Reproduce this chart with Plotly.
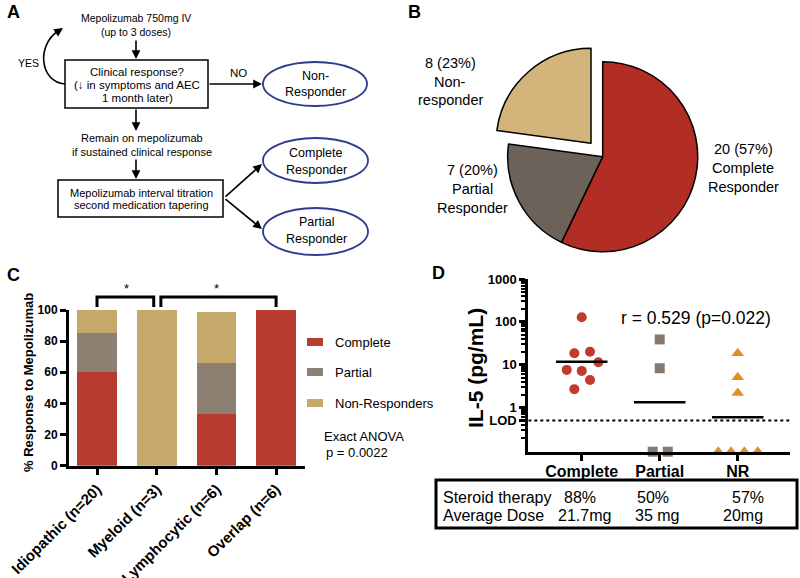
import math
import plotly.graph_objects as go

W, H = 800, 578
FONT = "Liberation Sans, Arial, Helvetica, sans-serif"


def px(x):
    return x / W


def py(y):
    return 1 - y / H


# ---------------- Data ----------------
# Panel B (pie)
pie_counts = [20, 7, 8]
pie_pct = ["57%", "20%", "23%"]
pie_names = [["Complete", "Responder"], ["Partial", "Responder"], ["Non-", "responder"]]

# Panel C (stacked bars)
subtypes = ["Idiopathic (n=20)", "Myeloid (n=3)", "Lymphocytic (n=6)", "Overlap (n=6)"]
pct_complete = [60, 0, 33, 100]
pct_partial = [25, 0, 33, 0]
pct_nonresp = [15, 100, 33, 0]
c_yticks = [0, 20, 40, 60, 80, 100]
resp_names = ["Complete", "Partial", "Non-Responders"]

# Panel D (IL-5)
groups = ["Complete", "Partial", "NR"]
BELOW_LOD = 0.094  # plotted at axis floor
il5_complete = [128, 18.5, 20.2, 11.4, 7.6, 7.2, 4.4, 2.7]
il5_partial = [39, 8.3, BELOW_LOD, BELOW_LOD]
il5_nr = [18.5, 5.1, 2.2, BELOW_LOD, BELOW_LOD, BELOW_LOD, BELOW_LOD]
jit_complete = [0, -0.095, 0.106, 0.213, -0.192, 0, 0.106, -0.095]
jit_partial = [0, 0, -0.09, 0.103]
jit_nr = [0, 0, 0, -0.249, -0.086, 0.085, 0.256]
il5_median = [11.8, 1.34, 0.6]
LOD = 0.5
d_ytickvals = [0.5, 1, 10, 100, 1000]
d_yticktext = ["LOD", "1", "10", "100", "1000"]
steroid_pct = ["88%", "50%", "57%"]
avg_dose = ["21.7mg", "35 mg", "20mg"]
r_text = "r = 0.529 (p=0.022)"

# ---------------- Colours ----------------
C_RED, C_GREY, C_BEIGE = "#b83b30", "#8d7f72", "#c5a96b"
B_RED, B_GREY, B_BEIGE = "#b22e24", "#6d6259", "#d3b57c"
D_RED, D_GREY, D_ORANGE = "#c23a2c", "#857a71", "#e08f2b"
ELL = "#2f3b8f"

fig = go.Figure()
shapes = []
ann = []


def text(x, y, s, size=11, bold=False, xanchor="center", color="black", angle=0):
    ann.append(dict(x=px(x), y=py(y), xref="paper", yref="paper", text=s, showarrow=False,
                    xanchor=xanchor, yanchor="middle", textangle=angle,
                    font=dict(family=FONT, size=size, color=color,
                              weight="bold" if bold else "normal")))


def arrow(x0, y0, x1, y1, w=1.6):
    ann.append(dict(x=px(x1), y=py(y1), xref="paper", yref="paper", text="",
                    showarrow=True, ax=x0 - x1, ay=y0 - y1, axref="pixel", ayref="pixel",
                    arrowhead=2, arrowsize=1.1, arrowwidth=w, arrowcolor="black", standoff=0))


def rect(x0, y0, x1, y1, w=1.5, color="black", fill=None):
    shapes.append(dict(type="rect", xref="paper", yref="paper", x0=px(x0), x1=px(x1),
                       y0=py(y1), y1=py(y0), line=dict(color=color, width=w),
                       fillcolor=fill if fill else "rgba(0,0,0,0)"))


def ellipse(x0, y0, x1, y1):
    shapes.append(dict(type="circle", xref="paper", yref="paper", x0=px(x0), x1=px(x1),
                       y0=py(y1), y1=py(y0), line=dict(color=ELL, width=1.8)))


# ---------------- Panel labels ----------------
for lab, (lx, ly) in zip("ABCD", [(5, 12), (406, 12), (5, 275), (430, 273)]):
    text(lx, ly, lab, size=18, bold=True, xanchor="left")

# ---------------- Panel A: flowchart ----------------
text(136, 18, "Mepolizumab 750mg IV", size=10.5)
text(136, 32, "(up to 3 doses)", size=10.5)
arrow(136, 39, 136, 59)
rect(65, 60, 208, 108)
text(137, 72, "Clinical response?", size=11.5)
text(137, 85, "(\u2193 in symptoms and AEC", size=11.5)
text(137, 98, "1 month later)", size=11.5)
text(28, 63, "YES", size=10.5)
shapes.append(dict(type="path", xref="paper", yref="paper",
                   path=f"M {px(65)},{py(84)} C {px(40)},{py(82)} {px(36)},{py(46)} {px(58)},{py(31)}",
                   line=dict(color="black", width=1.6)))
arrow(57, 32, 63, 28)
text(238, 73, "NO", size=11.5)
arrow(208, 84, 262, 84)
ellipse(263, 62, 367, 106)
text(315, 76, "Non-", size=12.5)
text(315, 92, "Responder", size=12.5)
arrow(136, 108, 136, 131)
text(142, 138, "Remain on mepolizumab", size=11)
text(142, 152, "if sustained clinical response", size=11)
arrow(136, 158, 136, 179)
rect(58, 180, 223, 217)
text(141, 193, "Mepolizumab interval titration", size=11)
text(141, 205, "second medication tapering", size=11)
arrow(224, 198, 262, 164)
arrow(224, 198, 262, 229)
ellipse(263, 138, 368, 183)
text(316, 153, "Complete", size=12.5)
text(316, 170, "Responder", size=12.5)
ellipse(263, 208, 368, 255)
text(316, 222, "Partial", size=12.5)
text(316, 239, "Responder", size=12.5)

# ---------------- Panel B: pie ----------------
fig.add_trace(go.Pie(values=pie_counts, sort=False, direction="clockwise", rotation=0,
                     marker=dict(colors=[B_RED, B_GREY, B_BEIGE], line=dict(color="black", width=1.5)),
                     pull=[0, 0, 0.187], textinfo="none", hoverinfo="skip", showlegend=False,
                     domain=dict(x=[px(489.9), px(715.5)], y=[py(269.5), py(43.9)])))
pie_lab_pos = [(743, 148.5, 19), (472, 169.5, 19), (450, 63, 18.5)]
for (lx, ly, dy), n, p, nm in zip(pie_lab_pos, pie_counts, pie_pct, pie_names):
    text(lx, ly, f"{n} ({p})", size=14.5)
    text(lx, ly + dy, nm[0], size=14.5)
    text(lx, ly + 2 * dy, nm[1], size=14.5)

# ---------------- Panel C: stacked bars ----------------
idx = list(range(len(subtypes)))
for vals, col in zip([pct_complete, pct_partial, pct_nonresp], [C_RED, C_GREY, C_BEIGE]):
    fig.add_trace(go.Bar(x=idx, y=vals, marker=dict(color=col, line=dict(width=0)),
                         width=0.665, showlegend=False, xaxis="x", yaxis="y", hoverinfo="skip"))

# significance brackets
for a, b, sx in [(0, 0.95, 0.5), (1.07, 3, 2.0)]:
    shapes.append(dict(type="path", xref="x", yref="paper",
                       path=f"M {a},{py(307)} L {a},{py(297)} L {b},{py(297)} L {b},{py(307)}",
                       line=dict(color="black", width=3)))
    ann.append(dict(x=sx, y=py(288), xref="x", yref="paper", text="*", showarrow=False,
                    font=dict(family=FONT, size=13, color="black"), xanchor="center", yanchor="middle"))

# legend
for name, col, yc in zip(resp_names, [C_RED, C_GREY, C_BEIGE], [342, 372, 403]):
    rect(307, yc - 4, 323, yc + 4, w=0, fill=col)
    text(333, yc, name, size=13, xanchor="left")
text(322, 436, "Exact ANOVA", size=13, xanchor="left")
text(324, 452, "p = 0.0022", size=13, xanchor="left")
text(28, 383, "% Response to Mepolizumab", size=13, bold=True, angle=-90)

# ---------------- Panel D: IL-5 ----------------
for i, (vals, jit, col, sym, sz) in enumerate([
        (il5_complete, jit_complete, D_RED, "circle", 10),
        (il5_partial, jit_partial, D_GREY, "square", 10),
        (il5_nr, jit_nr, D_ORANGE, "triangle-up", 11)]):
    fig.add_trace(go.Scatter(x=[i + j for j in jit], y=vals, mode="markers",
                             marker=dict(color=col, symbol=sym, size=sz, line=dict(width=0)),
                             cliponaxis=False, showlegend=False, xaxis="x2", yaxis="y2",
                             hoverinfo="skip"))

mx, my = [], []
for i, m in enumerate(il5_median):
    mx += [i - 0.33, i + 0.33, None]
    my += [m, m, None]
fig.add_trace(go.Scatter(x=mx, y=my, mode="lines", line=dict(color="black", width=2.5),
                         showlegend=False, xaxis="x2", yaxis="y2", hoverinfo="skip"))
d_xrange = [-0.685, 2.67]
fig.add_trace(go.Scatter(x=d_xrange, y=[LOD, LOD], mode="lines",
                         line=dict(color="black", width=2, dash="dot"),
                         showlegend=False, xaxis="x2", yaxis="y2", hoverinfo="skip"))

text(475, 368, "IL-5 (pg/mL)", size=21, bold=True, angle=-90)
text(696, 318, r_text, size=17.5)

# table
rect(436, 480, 797, 528, w=3)
text(441, 497, "Steroid therapy", size=16, xanchor="left")
text(441, 515, "Average Dose", size=16, xanchor="left")
for s, xc in zip(steroid_pct, [580, 653, 748]):
    text(xc, 497, s, size=16)
for s, xc in zip(avg_dose, [584, 657, 743]):
    text(xc, 515, s, size=16)

minor_vals = []
for dec in [0.1, 1, 10, 100]:
    for k in range(2, 10):
        v = round(k * dec, 6)
        if v != LOD:
            minor_vals.append(v)

axis_common = dict(showgrid=False, zeroline=False, showline=True, linecolor="black",
                   linewidth=3, ticks="outside", tickcolor="black", tickwidth=3, ticklen=6,
                   automargin=False)

fig.update_layout(
    width=W, height=H, margin=dict(l=0, r=0, t=0, b=0, autoexpand=False),
    paper_bgcolor="white", plot_bgcolor="white", barmode="stack",
    font=dict(family=FONT, color="black"),
    xaxis=dict(domain=[px(69), px(305)], range=[-0.469, 3.484], tickmode="array",
               tickvals=idx, ticktext=subtypes, tickangle=-45, anchor="y",
               tickfont=dict(family=FONT, size=15, weight="bold"), **axis_common),
    yaxis=dict(domain=[py(465.7), py(310)], range=[0, 100], tickvals=c_yticks, anchor="x",
               tickfont=dict(family=FONT, size=12, weight="bold"), **axis_common),
    xaxis2=dict(domain=[px(528.3), px(790)], range=d_xrange, tickmode="array",
                tickvals=[0, 1, 2], ticktext=groups, anchor="y2", ticklabelstandoff=-3,
                tickfont=dict(family=FONT, size=16, weight="bold"), **axis_common),
    yaxis2=dict(domain=[py(451.7), py(279)], type="log", range=[math.log10(BELOW_LOD), 3],
                tickmode="array", tickvals=d_ytickvals, ticktext=d_yticktext, anchor="x2",
                tickfont=dict(family=FONT, size=13, weight="bold"),
                minor=dict(tickmode="array", tickvals=minor_vals, ticks="outside", ticklen=4,
                           tickwidth=2, tickcolor="black", showgrid=False),
                **axis_common),
    shapes=shapes, annotations=ann,
)

fig.write_html("out.html", config={"displayModeBar": False},
               post_script="document.body.style.margin='0';document.body.style.padding='0';")
